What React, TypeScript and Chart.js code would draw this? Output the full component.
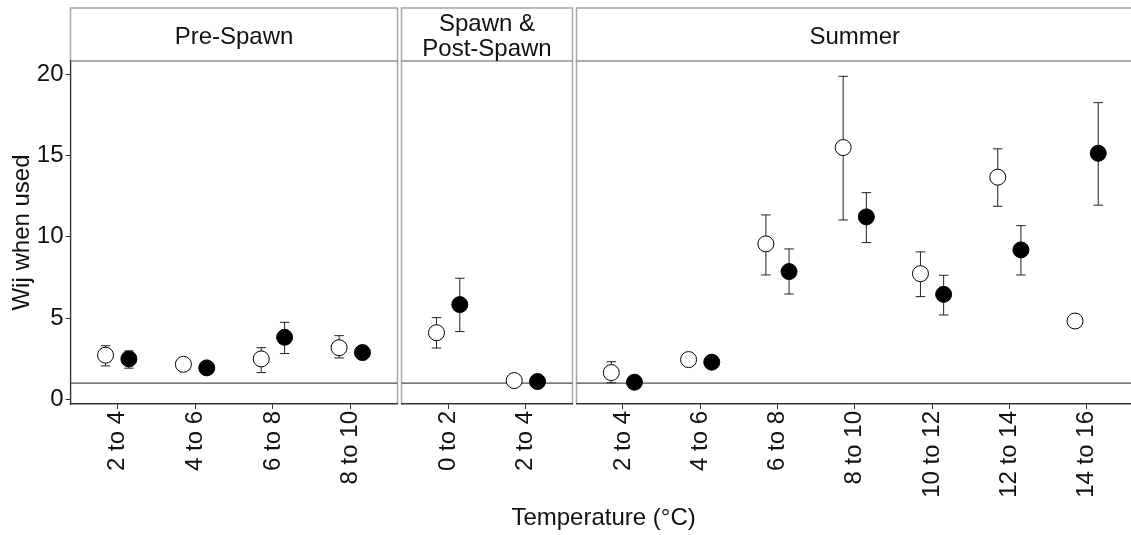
import React, { useEffect, useRef } from 'react';
import { Chart, registerables } from 'chart.js';

Chart.register(...registerables);

const FONT = "'Liberation Sans', Arial, Helvetica, sans-serif";

// ---------- data ----------
const preSpawnCategories = ['2 to 4', '4 to 6', '6 to 8', '8 to 10'];
const preSpawnOpen = [2.72, 2.16, 2.49, 3.18];
const preSpawnOpenLow = [2.06, null, 1.65, 2.55];
const preSpawnOpenHigh = [3.3, null, 3.18, 3.92];
const preSpawnFilled = [2.49, 1.94, 3.82, 2.88];
const preSpawnFilledLow = [1.92, null, 2.82, null];
const preSpawnFilledHigh = [2.98, null, 4.74, null];

const spawnCategories = ['0 to 2', '2 to 4'];
const spawnOpen = [4.1, 1.16];
const spawnOpenLow = [3.16, null];
const spawnOpenHigh = [5.03, null];
const spawnFilled = [5.83, 1.1];
const spawnFilledLow = [4.17, null];
const spawnFilledHigh = [7.45, null];

const summerCategories = ['2 to 4', '4 to 6', '6 to 8', '8 to 10', '10 to 12', '12 to 14', '14 to 16'];
const summerOpen = [1.65, 2.45, 9.56, 15.48, 7.73, 13.66, 4.82];
const summerOpenLow = [1.03, null, 7.65, 11.03, 6.32, 11.87, null];
const summerOpenHigh = [2.32, null, 11.34, 19.86, 9.07, 15.4, null];
const summerFilled = [1.06, 2.29, 7.86, 11.22, 6.46, 9.19, 15.13];
const summerFilledLow = [null, null, 6.48, 9.64, 5.19, 7.65, 11.94];
const summerFilledHigh = [null, null, 9.25, 12.71, 7.63, 10.68, 18.24];

const yTickValues = [0, 5, 10, 15, 20];
const referenceLine = 1;
const yTitle = 'Wij when used';
const xTitle = 'Temperature (°C)';

// ---------- layout ----------
const W = 1131;
const H = 535;
const PLOT_TOP = 61;
const STRIP_TOP = 8;
const PLOT_BOTTOM = 404;
const Y_MIN = -0.28;
const Y_MAX = 20.8;
const DODGE = 0.15;
const PANEL_BORDER = '#a8a8a8';
const AXIS_COLOR = '#333333';
const TEXT_COLOR = '#111111';

type Num = number | null;

interface PanelSpec {
  stripLines: string[];
  stripBaselines: number[];
  categories: string[];
  open: number[];
  openLow: Num[];
  openHigh: Num[];
  filled: number[];
  filledLow: Num[];
  filledHigh: Num[];
  left: number;
  right: number;
  canvasWidth: number;
  showY: boolean;
  drawXTitle: boolean;
}

const panels: PanelSpec[] = [
  {
    stripLines: ['Pre-Spawn'], stripBaselines: [44],
    categories: preSpawnCategories,
    open: preSpawnOpen, openLow: preSpawnOpenLow, openHigh: preSpawnOpenHigh,
    filled: preSpawnFilled, filledLow: preSpawnFilledLow, filledHigh: preSpawnFilledHigh,
    left: 70.5, right: 397.5, canvasWidth: W, showY: true, drawXTitle: true,
  },
  {
    stripLines: ['Spawn &', 'Post-Spawn'], stripBaselines: [31, 56],
    categories: spawnCategories,
    open: spawnOpen, openLow: spawnOpenLow, openHigh: spawnOpenHigh,
    filled: spawnFilled, filledLow: spawnFilledLow, filledHigh: spawnFilledHigh,
    left: 401.5, right: 572.5, canvasWidth: W, showY: false, drawXTitle: false,
  },
  {
    stripLines: ['Summer'], stripBaselines: [44],
    categories: summerCategories,
    open: summerOpen, openLow: summerOpenLow, openHigh: summerOpenHigh,
    filled: summerFilled, filledLow: summerFilledLow, filledHigh: summerFilledHigh,
    left: 576.5, right: 1136.6, canvasWidth: 1142, showY: false, drawXTitle: false,
  },
];

function buildDatasets(p: PanelSpec): any[] {
  const n = p.categories.length;
  const whiskers: any[] = [];
  const caps: any[] = [];
  const addBars = (lo: Num[], hi: Num[], shift: number) => {
    lo.forEach((l, i) => {
      const h = hi[i];
      if (l != null && h != null) {
        whiskers.push({ x: i + shift, y: [l, h] });
        caps.push({ x: i + shift, y: l }, { x: i + shift, y: h });
      }
    });
  };
  addBars(p.openLow, p.openHigh, -DODGE);
  addBars(p.filledLow, p.filledHigh, DODGE);
  return [
    {
      type: 'line',
      data: [{ x: -0.6, y: referenceLine }, { x: n - 0.4, y: referenceLine }],
      borderColor: '#4d4d4d', borderWidth: 1.3, pointRadius: 0, order: 4,
    },
    {
      type: 'bar', data: whiskers, backgroundColor: '#222222', borderWidth: 0,
      grouped: false, maxBarThickness: 1, order: 3,
    },
    {
      type: 'scatter', data: caps, pointStyle: 'line', pointRadius: 4.75,
      pointBorderColor: '#222222', pointBorderWidth: 1, order: 3,
    },
    {
      type: 'scatter', data: p.open.map((v, i) => ({ x: i - DODGE, y: v })),
      pointRadius: 8, pointBackgroundColor: '#ffffff', pointBorderColor: '#000000',
      pointBorderWidth: 1, order: 1,
    },
    {
      type: 'scatter', data: p.filled.map((v, i) => ({ x: i + DODGE, y: v })),
      pointRadius: 8, pointBackgroundColor: '#000000', pointBorderColor: '#000000',
      pointBorderWidth: 1, order: 0,
    },
  ];
}

function Panel({ spec }: { spec: PanelSpec }) {
  const ref = useRef<HTMLCanvasElement | null>(null);
  useEffect(() => {
    if (!ref.current) return;
    const n = spec.categories.length;
    const panelPlugin = {
      id: 'facetPanel',
      beforeDraw(chart: any) {
        const { ctx, chartArea } = chart;
        const { left, right, top, bottom } = chartArea;
        ctx.save();
        ctx.fillStyle = '#ffffff';
        ctx.fillRect(left, STRIP_TOP, right - left, top - STRIP_TOP);
        ctx.strokeStyle = PANEL_BORDER;
        ctx.lineWidth = 1.5;
        ctx.strokeRect(left, STRIP_TOP, right - left, top - STRIP_TOP);
        ctx.strokeRect(left, top, right - left, bottom - top);
        ctx.fillStyle = TEXT_COLOR;
        ctx.font = `24px ${FONT}`;
        ctx.textAlign = 'center';
        ctx.textBaseline = 'alphabetic';
        const cx = (left + right) / 2;
        spec.stripLines.forEach((t, i) => ctx.fillText(t, cx, spec.stripBaselines[i]));
        ctx.restore();
      },
      afterDraw(chart: any) {
        if (!spec.drawXTitle) return;
        const { ctx } = chart;
        ctx.save();
        ctx.fillStyle = TEXT_COLOR;
        ctx.font = `24px ${FONT}`;
        ctx.textAlign = 'center';
        ctx.textBaseline = 'alphabetic';
        ctx.fillText(xTitle, (panels[0].left + panels[2].right) / 2, 525);
        ctx.restore();
      },
    };
    const chart = new Chart(ref.current, {
      type: 'scatter',
      data: { datasets: buildDatasets(spec) as any },
      options: {
        animation: false,
        responsive: false,
        devicePixelRatio: 1,
        events: [],
        layout: {
          padding: {
            left: spec.showY ? 0 : spec.left,
            right: spec.canvasWidth - spec.right,
            top: PLOT_TOP,
            bottom: 0,
          },
        },
        plugins: { legend: { display: false }, tooltip: { enabled: false } },
        scales: {
          x: {
            type: 'linear',
            offset: false,
            min: -0.6,
            max: n - 0.4,
            afterBuildTicks: (s: any) => {
              s.ticks = spec.categories.map((_, i) => ({ value: i }));
            },
            afterFit: (s: any) => {
              s.height = H - PLOT_BOTTOM;
            },
            ticks: {
              callback: (v: any) => spec.categories[Math.round(Number(v))] ?? '',
              autoSkip: false,
              maxRotation: 90,
              minRotation: 90,
              font: { size: 24, family: FONT },
              color: TEXT_COLOR,
              padding: 2,
            },
            grid: {
              display: true, offset: false, drawOnChartArea: false, drawTicks: true,
              tickLength: 5, color: AXIS_COLOR, lineWidth: 1,
            },
            border: { display: true, color: AXIS_COLOR, width: 1.2 },
          },
          y: {
            type: 'linear',
            display: spec.showY,
            min: Y_MIN,
            max: Y_MAX,
            afterBuildTicks: (s: any) => {
              s.ticks = yTickValues.map((v) => ({ value: v }));
            },
            afterFit: (s: any) => {
              s.width = spec.showY ? spec.left : 0;
            },
            ticks: { font: { size: 24, family: FONT }, color: TEXT_COLOR, padding: 2 },
            grid: {
              display: true, drawOnChartArea: false, drawTicks: true,
              tickLength: 5, color: AXIS_COLOR, lineWidth: 1,
            },
            border: { display: true, color: AXIS_COLOR, width: 1.2 },
            title: {
              display: true,
              text: yTitle,
              font: { size: 24, family: FONT },
              color: TEXT_COLOR,
              padding: { top: 8, bottom: 0 },
            },
          },
        },
      } as any,
      plugins: [panelPlugin],
    });
    return () => chart.destroy();
  }, [spec]);
  return (
    <canvas
      ref={ref}
      width={spec.canvasWidth}
      height={H}
      style={{ position: 'absolute', left: 0, top: 0, width: spec.canvasWidth, height: H }}
    />
  );
}

export default function App() {
  return (
    <div
      style={{
        position: 'absolute', left: 0, top: 0, width: W, height: H,
        overflow: 'hidden', background: '#ffffff',
      }}
    >
      {panels.map((p, i) => (
        <Panel key={i} spec={p} />
      ))}
    </div>
  );
}
